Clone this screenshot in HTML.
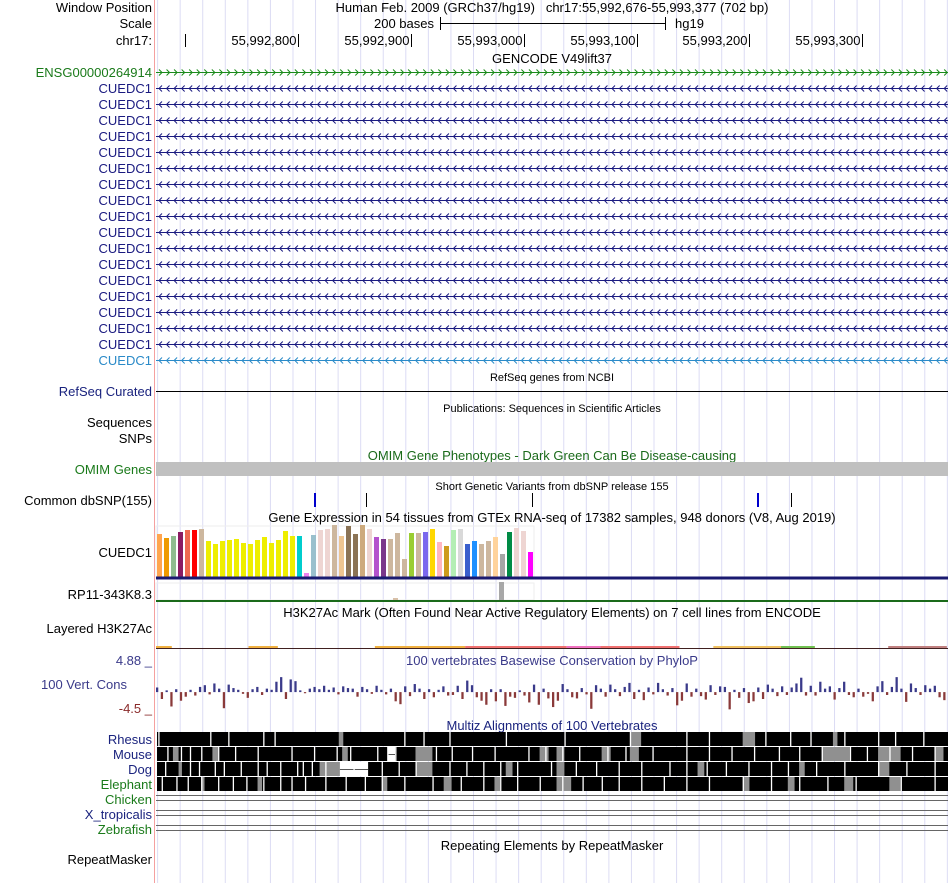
<!DOCTYPE html>
<html><head><meta charset="utf-8"><style>
body{margin:0;background:#fff;width:950px;height:883px;overflow:hidden;font-family:"Liberation Sans",sans-serif}
svg{position:absolute;left:0;top:0}
text{font-family:"Liberation Sans",sans-serif}
</style></head><body>
<svg id="s" width="950" height="883" xmlns="http://www.w3.org/2000/svg">
<g id="grid"></g>
<line x1="154.5" y1="0" x2="154.5" y2="883" stroke="#f5a0a0"/>
<g font-size="13" fill="#000" text-anchor="end">
<text x="152" y="12">Window Position</text>
<text x="152" y="28">Scale</text>
<text x="152" y="45">chr17:</text>
<text x="152" y="77" fill="#1a7a1a">ENSG00000264914</text>
<text x="152" y="396" fill="#1a237e">RefSeq Curated</text>
<text x="152" y="427">Sequences</text>
<text x="152" y="443">SNPs</text>
<text x="152" y="474" fill="#1a7a1a">OMIM Genes</text>
<text x="152" y="505">Common dbSNP(155)</text>
<text x="152" y="557">CUEDC1</text>
<text x="152" y="599">RP11-343K8.3</text>
<text x="152" y="633">Layered H3K27Ac</text>
<text x="152" y="665" fill="#3a3a8a">4.88 _</text>
<text x="127" y="689" fill="#3a3a8a">100 Vert. Cons</text>
<text x="152" y="713" fill="#8a2a2a">-4.5 _</text>
<text x="152" y="744" fill="#1a237e">Rhesus</text>
<text x="152" y="759" fill="#1a237e">Mouse</text>
<text x="152" y="774" fill="#1a237e">Dog</text>
<text x="152" y="789" fill="#1a7a1a">Elephant</text>
<text x="152" y="804" fill="#1a7a1a">Chicken</text>
<text x="152" y="819" fill="#1a237e">X_tropicalis</text>
<text x="152" y="834" fill="#1a7a1a">Zebrafish</text>
<text x="152" y="864">RepeatMasker</text>
</g>
<g id="cuedLabels" font-size="13" text-anchor="end"></g>
<g font-size="13" text-anchor="middle">
<text x="552" y="12">Human Feb. 2009 (GRCh37/hg19)&#160;&#160;&#160;chr17:55,992,676-55,993,377 (702 bp)</text>
<text x="434" y="28" text-anchor="end">200 bases</text>
<text x="675" y="28" text-anchor="start">hg19</text>
<text x="552" y="63">GENCODE V49lift37</text>
<text x="552" y="381" font-size="11">RefSeq genes from NCBI</text>
<text x="552" y="412" font-size="11">Publications: Sequences in Scientific Articles</text>
<text x="552" y="460" fill="#1a6a1a">OMIM Gene Phenotypes - Dark Green Can Be Disease-causing</text>
<text x="552" y="490" font-size="11">Short Genetic Variants from dbSNP release 155</text>
<text x="552" y="522">Gene Expression in 54 tissues from GTEx RNA-seq of 17382 samples, 948 donors (V8, Aug 2019)</text>
<text x="552" y="617">H3K27Ac Mark (Often Found Near Active Regulatory Elements) on 7 cell lines from ENCODE</text>
<text x="552" y="665" fill="#3a3a8a">100 vertebrates Basewise Conservation by PhyloP</text>
<text x="552" y="730" fill="#1a237e">Multiz Alignments of 100 Vertebrates</text>
<text x="552" y="850">Repeating Elements by RepeatMasker</text>
</g>
<g stroke="#000">
<line x1="440.5" y1="17" x2="440.5" y2="30"/><line x1="665.5" y1="17" x2="665.5" y2="30"/><line x1="440" y1="23.5" x2="665" y2="23.5"/>
</g>
<g id="ruler" font-size="13" text-anchor="end"></g>
<g id="genes"></g>
<line x1="156" y1="391.5" x2="948" y2="391.5" stroke="#000"/>
<rect x="156" y="462" width="792" height="14" fill="#c0c0c0"/>
<g id="snps"></g>
<rect x="156" y="526" width="378" height="52" fill="none" stroke="#eee"/>
<g id="gtex"></g>
<rect x="156" y="576.5" width="792" height="3" fill="#1a1a70"/>
<rect x="156" y="583" width="378" height="17" fill="none" stroke="#eee"/>
<rect x="499" y="582" width="5" height="18" fill="#a8a8a8"/>
<rect x="393" y="598" width="5" height="2" fill="#d8c0a8"/>
<rect x="156" y="600" width="792" height="2" fill="#1a6a1a"/>
<g id="h3k"></g>
<g id="cons"></g>
<g id="multiz"></g>
<g stroke="#666">
<line x1="156" y1="795.5" x2="948" y2="795.5"/><line x1="156" y1="800.5" x2="948" y2="800.5"/>
<line x1="156" y1="810.5" x2="948" y2="810.5"/><line x1="156" y1="815.5" x2="948" y2="815.5"/>
<line x1="156" y1="825.5" x2="948" y2="825.5"/><line x1="156" y1="830.5" x2="948" y2="830.5"/>
</g>
</svg>
<script>
const NS="http://www.w3.org/2000/svg";
function mk(tag,attrs,parent){const e=document.createElementNS(NS,tag);for(const k in attrs)e.setAttribute(k,attrs[k]);parent.appendChild(e);return e;}
const startBase=55992676, endBase=55993377;
const x0=156, x1=948;
function bx(b){return x0+(b-startBase)/(endBase-startBase+1)*(x1-x0);}
// data
const rulerTicks=[55992700,55992800,55992900,55993000,55993100,55993200,55993300];
const snpPositions=[55992816,55992862,55993009,55993209,55993239];
const snpColors=["#0000cc","#000","#000","#0000cc","#000"];
const gtexValues=[43,39,41,45,47,47,48,36,33,36,37,38,34,33,37,40,34,37,46,41,41,4,42,47,48,52,41,51,43,52,48,40,38,38,44,18,44,44,45,48,35,31,47,48,33,36,33,36,40,23,45,49,46,25];
const gtexColors=["#ffa54f","#ee9a00","#8fbc8f","#8b1c62","#ee6a50","#ff0000","#cdb79e","#eeee00","#eeee00","#eeee00","#eeee00","#eeee00","#eeee00","#eeee00","#eeee00","#eeee00","#eeee00","#eeee00","#eeee00","#eeee00","#00cdcd","#ee82ee","#9ac0cd","#eed5d2","#eed5d2","#cdb79e","#eec591","#8b7355","#8b7355","#cdaa7d","#eed5d2","#b452cd","#7a378b","#cdb79e","#cdb79e","#cdb79e","#9acd32","#cdb79e","#7b68ee","#ffd700","#ffb6c1","#cd9b1d","#b4eeb4","#d9d9d9","#3a5fcd","#1e90ff","#cdb79e","#cdb79e","#ffd39b","#a6a6a6","#008b45","#eed5d2","#eed5d2","#ff00ff"];
const gtexMax=52;
const consValues=[0.8,-1.2,0.3,-2.5,0.5,-1.5,-0.8,0.4,-0.6,0.9,1.2,-0.4,1.5,0.6,-2.8,1.3,0.7,0.4,-0.3,-1.0,0.5,0.9,-0.5,0.6,0.4,1.8,2.6,-1.2,2.2,1.9,0.3,-0.2,0.6,0.9,0.5,1.1,0.4,0.8,-0.4,1.0,0.7,0.6,-0.8,0.9,0.5,-0.3,1.1,0.4,-0.4,0.6,-1.6,-2.1,1.0,-0.7,1.4,0.6,-1.2,0.5,-0.9,0.4,1.0,-0.6,-0.5,1.1,-1.2,2.0,1.2,-0.9,-1.5,-2.2,0.5,-1.6,0.5,-2.4,-0.8,-1.0,0.3,-0.6,-1.8,1.3,-2.2,0.6,-1.1,-2.6,-1.5,1.4,0.5,-0.9,-1.1,0.7,-0.4,-2.9,1.2,0.6,-0.8,1.3,0.5,-0.7,0.9,1.6,-1.2,0.4,-1.4,0.8,-0.4,1.6,0.5,-0.6,0.7,-2.3,-1.5,1.5,-0.8,0.6,-0.7,-1.3,1.2,-0.5,1.0,0.9,-3.0,0.4,-1.0,0.7,-1.9,-1.6,0.8,-1.2,1.3,0.6,-0.7,1.0,-0.5,0.8,1.5,2.5,-0.6,1.1,-0.6,1.8,0.6,1.0,-1.3,0.7,1.8,-0.5,-0.9,0.6,-0.8,-0.3,-1.6,1.0,1.9,-0.5,0.9,2.6,0.6,-1.7,1.5,0.7,-0.5,1.2,0.6,1.1,-0.9,-1.4];
const consMax=4.88, consMin=-4.5;
const h3kSegments=[[55992676,55992690,"#f0b040"],[55992758,55992784,"#f0b040"],[55992870,55992950,"#f0b040"],[55992950,55993040,"#f07070"],[55993040,55993070,"#f070c0"],[55993070,55993140,"#f07070"],[55993170,55993230,"#f0c060"],[55993230,55993260,"#70c050"],[55993325,55993377,"#c08080"]];
const speciesNames=["rhesus","mouse","dog","elephant"];
const speciesGaps=[
 [2,48,64,95,105,220,237,260,310,362,420,470,490,540,562,580,610,640,655,680],
 [10,22,30,40,55,70,90,120,140,160,172,196,205,212,248,262,280,300,330,345,360,375,400,416,440,470,490,510,530,552,570,590,615,630,650,670,690],
 [8,30,38,52,60,75,90,98,110,125,130,138,150,175,200,215,230,260,275,290,305,320,350,372,390,410,430,455,470,488,505,525,545,560,585,610,640,665,690],
 [5,18,28,40,55,68,80,95,110,120,132,150,168,185,200,220,245,270,290,305,320,340,360,378,395,410,430,450,470,490,520,545,570,595,620,660,690]];
const speciesGray=[
 [[162,166],[420,430],[520,531],[600,604]],
 [[15,20],[50,55],[165,170],[230,245],[340,348],[355,362],[395,403],[420,428],[590,615],[640,660],[690,698]],
 [[20,23],[145,165],[230,245],[310,316],[355,362],[480,486],[570,575],[640,650]],
 [[40,43],[90,94],[200,205],[255,262],[300,305],[355,368],[520,526],[560,566],[610,618],[650,660]]];
const speciesWhite=[[],[[205,212]],[[163,188]],[]];

const svg=document.getElementById('s');
const grid=document.getElementById('grid');
for(let b=55992676;b<=55993377;b+=20){const x=bx(b)+1.6;const l=mk('line',{x1:x,y1:0,x2:x,y2:883,stroke:'#dcdcf4'},grid);

}
const ruler=document.getElementById('ruler');
rulerTicks.forEach((t,i)=>{const x=Math.round(bx(t+2))+0.5;const l=mk('line',{x1:x,y1:34,x2:x,y2:47,stroke:'#000'},ruler);


if(i>0){const tx=mk('text',{x:x-2,y:45},ruler);tx.textContent=t.toLocaleString('en-US');

}});
const genes=document.getElementById('genes');
const cl=document.getElementById('cuedLabels');
function geneRow(y,color,dir,name){
 const g=mk('g',{},genes);
 
 
 mk('line',{x1:156,y1:y+0.5,x2:948,y2:y+0.5,stroke:color},g);
 let d='';for(let x=159;x<946;x+=7.55){d+=dir>0?`M${x} ${y-2.5}L${x+3} ${y+0.5}L${x} ${y+3.5}`:`M${x+3} ${y-2.5}L${x} ${y+0.5}L${x+3} ${y+3.5}`;}
 mk('path',{d:d,fill:'none',stroke:color,'stroke-width':1},g);
}
geneRow(72,'#1a8a1a',1,'ensg00000264914');
for(let i=0;i<18;i++){const y=88+i*16;const c=i==17?'#2a8ac8':'#1a1a80';geneRow(y,c,-1,'cuedc1-'+(i+1));
 const t=mk('text',{x:152,y:y+5,fill:c},cl);t.textContent='CUEDC1';
 
 }
const sn=document.getElementById('snps');
snpPositions.forEach((p,i)=>{const x=Math.round(bx(p))+0.5;const r=mk('rect',{x:x-0.5,y:493,width:snpColors[i]=="#000"?1:2,height:14,fill:snpColors[i]},sn);

});
const gt=document.getElementById('gtex');
gtexValues.forEach((v,i)=>{const h=v/gtexMax*52;const r=mk('rect',{x:157+i*7,y:577-h,width:5,height:h,fill:gtexColors[i]},gt);

});
const hk=document.getElementById('h3k');
mk('line',{x1:156,y1:648.5,x2:948,y2:648.5,stroke:'#402020'},hk);
h3kSegments.forEach(s=>{const r=mk('rect',{x:bx(s[0]),y:646,width:bx(s[1])-bx(s[0]),height:2,fill:s[2]},hk);

});
const co=document.getElementById('cons');
const yTop=664,yBot=718;
function cy(v){return yTop+(consMax-v)/(consMax-consMin)*(yBot-yTop);}
const w=(x1-x0)/consValues.length;
consValues.forEach((v,i)=>{const y0=cy(0),y=cy(v);const r=mk('rect',{x:x0+i*w,y:Math.min(y0,y),width:Math.max(w-2.5,1.2),height:Math.abs(y-y0),fill:v>=0?'#3a3a8a':'#8a3a3a'},co);

});
const mz=document.getElementById('multiz');
speciesNames.forEach((n,si)=>{const y=732+si*15;
 const g=mk('g',{},mz);
 
 
 mk('rect',{x:157,y:y,width:791,height:14,fill:'#000'},g);
 speciesGray[si].forEach(r=>mk('rect',{x:bx(startBase+r[0]),y:y,width:bx(startBase+r[1])-bx(startBase+r[0]),height:14,fill:'#909090'},g));
 speciesWhite[si].forEach(r=>{mk('rect',{x:bx(startBase+r[0]),y:y,width:bx(startBase+r[1])-bx(startBase+r[0]),height:14,fill:'#fff'},g);
  mk('line',{x1:bx(startBase+r[0]),y1:y+7.5,x2:bx(startBase+r[1]),y2:y+7.5,stroke:'#555'},g);});
 speciesGaps[si].forEach(b=>mk('rect',{x:bx(startBase+b),y:y,width:1.3,height:14,fill:'#fff'},g));
});
</script>
</body></html>
